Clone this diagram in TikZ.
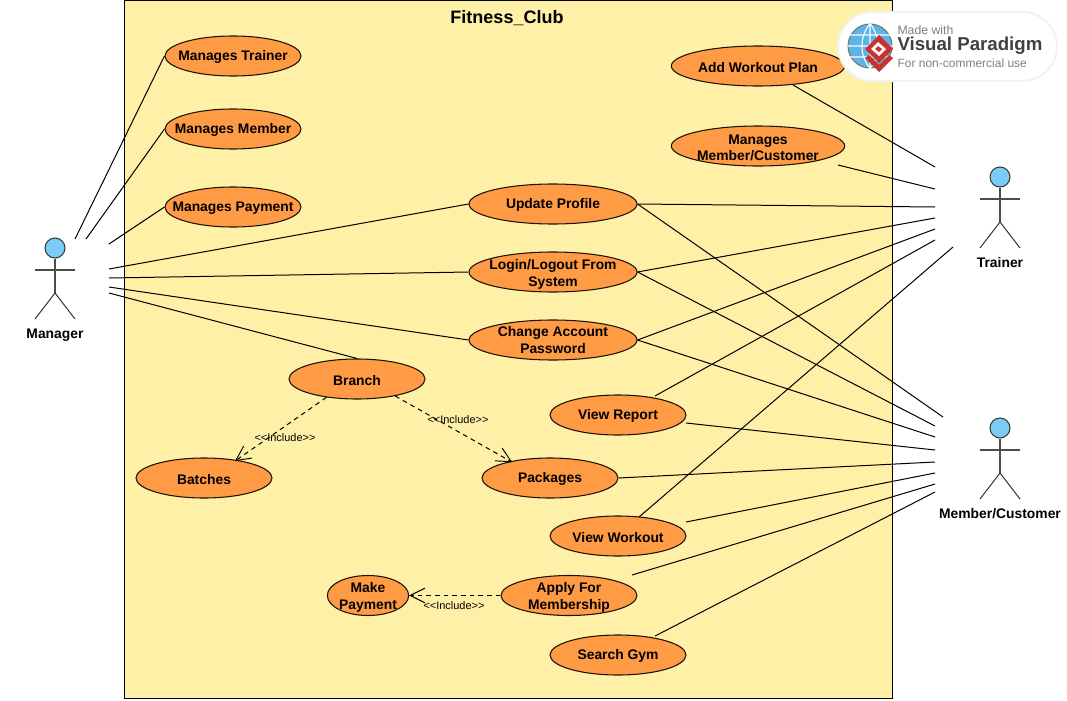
\documentclass[tikz,border=0pt]{standalone}
\usepackage{fontspec}
\setmainfont{Liberation Sans}
\usetikzlibrary{arrows.meta, shapes.geometric}

\definecolor{boundaryfill}{HTML}{FFF0A8}
\definecolor{casefill}{HTML}{FF9A45}
\definecolor{headfill}{HTML}{7ACBF5}
\definecolor{globeblue}{HTML}{5FB4E6}
\definecolor{vpred}{HTML}{C8322D}

\newcommand{\liftline}[1]{\rule{0pt}{#1pt}}

\tikzset{
  usecase/.style={ellipse, draw=black!85!brown, fill=casefill, line width=0.8pt, inner sep=-20pt,
    minimum width=102pt, minimum height=30pt, align=center, font=\bfseries\fontsize{10.4}{12.6}\selectfont,
    execute at begin node={\rule{0pt}{9.3pt}}},
  actorname/.style={font=\bfseries\fontsize{10.4}{12}\selectfont, text=black},
  inclabel/.style={font=\fontsize{8.2}{10}\selectfont, inner sep=0pt},
  include/.style={dash pattern=on 3.5pt off 3pt, line width=0.75pt, -{Straight Barb[length=11pt, width=11pt, line width=0.7pt]}},
}

\begin{document}
\begin{tikzpicture}[x=0.75pt, y=-0.75pt, line width=0.75pt]
  \useasboundingbox (0,0) rectangle (1067,700);
  \draw[fill=boundaryfill] (124,0) rectangle (892,698);
  \node[font=\bfseries\fontsize{13.5}{15}\selectfont] (title) at (507,18) {Fitness\_Club};

  % use cases
  \node[usecase] (trainerCase) at (233,56) {Manages Trainer};
  \node[usecase] (memberCase) at (233,129) {Manages Member};
  \node[usecase] (paymentCase) at (233,207) {Manages Payment};
  \node[usecase, minimum width=130pt] (workoutPlan) at (758,66) {Add Workout Plan};
  \node[usecase, minimum width=130pt] (memberCustomer) at (758,146) {\liftline{10}Manages\\Member/Customer};
  \node[usecase, minimum width=126pt] (updateProfile) at (553,204) {Update Profile};
  \node[usecase, minimum width=126pt] (login) at (553,272) {\liftline{11.5}Login/Logout From\\System};
  \node[usecase, minimum width=126pt] (changePass) at (553,340) {Change Account\\Password};
  \node[usecase] (branch) at (357,379) {Branch};
  \node[usecase] (batches) at (204,478) {Batches};
  \node[usecase] (packages) at (550,478) {Packages};
  \node[usecase] (viewReport) at (618,415) {View Report};
  \node[usecase] (viewWorkout) at (618,536) {View Workout};
  \node[usecase] (applyFor) at (569,595.5) {\liftline{10.8}Apply For\\Membership};
  \node[usecase, minimum width=61pt] (makePayment) at (368,595.5) {\liftline{10.8}Make\\Payment};
  \node[usecase] (searchGym) at (618,655) {Search Gym};

  % actors
  \foreach \nm/\hx/\hy in {managerHead/55/248, trainerHead/1000/177, memberHead/1000/428} {
    \node[circle, draw=black!80, fill=headfill, minimum size=15pt, inner sep=0pt] (\nm) at (\hx,\hy) {};
    \draw[black!70, line width=0.9pt] (\nm.south) -- (\hx,\hy+45) coordinate (\nm hip);
    \draw[black!70, line width=0.9pt] (\hx-20,\hy+22) -- (\hx+20,\hy+22);
    \draw[black!80] (\nm hip) -- ++(-20,26);
    \draw[black!80] (\nm hip) -- ++(20,26);
  }
  \node[actorname] (manager) at (55,335.5) {Manager};
  \node[actorname] (trainer) at (1000,263) {Trainer};
  \node[actorname] (member) at (1000,514) {Member/Customer};

  % free ends beside the actors
  \coordinate (mA) at (75,239);
  \coordinate (mB) at (86,239);
  \coordinate (mC) at (109,244);
  \coordinate (mD) at (109,269);
  \coordinate (mE) at (109,278);
  \coordinate (mF) at (109,287);
  \coordinate (mG) at (109,293);
  \coordinate (tA) at (935,167);
  \coordinate (tB) at (935,189);
  \coordinate (tC) at (935,207);
  \coordinate (tD) at (935,218);
  \coordinate (tE) at (935,229);
  \coordinate (tF) at (935,240);
  \coordinate (tG) at (953,247);
  \coordinate (cA) at (943,417);
  \coordinate (cB) at (935,426);
  \coordinate (cC) at (935,437);
  \coordinate (cD) at (935,450);
  \coordinate (cE) at (935,462);
  \coordinate (cF) at (935,473);
  \coordinate (cG) at (935,484);
  \coordinate (cH) at (935,492);
  \coordinate (planEnd) at (793,85);
  \coordinate (customerEnd) at (838,165);
  \coordinate (reportEnd) at (655,396);
  \coordinate (reportSide) at (686,423);
  \coordinate (workoutEnd) at (639,517);
  \coordinate (workoutSide) at (686,522);
  \coordinate (applyEnd) at (632,575);
  \coordinate (gymEnd) at (655,636);

  \draw (mA) -- (trainerCase.west);
  \draw (mB) -- (memberCase.west);
  \draw (mC) -- (paymentCase.west);
  \draw (mD) -- (updateProfile.west);
  \draw (mE) -- (login.west);
  \draw (mF) -- (changePass.west);
  \draw (mG) -- (branch.north);

  \draw (planEnd) -- (tA);
  \draw (customerEnd) -- (tB);
  \draw (updateProfile.east) -- (tC);
  \draw (login.east) -- (tD);
  \draw (changePass.east) -- (tE);
  \draw (reportEnd) -- (tF);
  \draw (workoutEnd) -- (tG);

  \draw (updateProfile.east) -- (cA);
  \draw (login.east) -- (cB);
  \draw (changePass.east) -- (cC);
  \draw (reportSide) -- (cD);
  \draw (packages.east) -- (cE);
  \draw (workoutSide) -- (cF);
  \draw (applyEnd) -- (cG);
  \draw (gymEnd) -- (cH);

  % include relations
  \draw[include, shorten >=-1.5pt] (branch.-149) -- (batches.29);
  \draw[include, shorten >=-1.5pt] (branch.-24) -- (packages.157);
  \draw[include] (applyFor.west) -- (makePayment.east);
  \node[inclabel] (incA) at (285,438) {<{}<Include>{}>};
  \node[inclabel] (incB) at (458,420) {<{}<Include>{}>};
  \node[inclabel] (incC) at (454,606) {<{}<Include>{}>};

  % watermark
  \path[fill=white, draw=black!5, line width=1.5pt, rounded corners=26pt] (838,12) rectangle (1057,81);
  \node[circle, draw=black!55, fill=globeblue, minimum size=33pt, inner sep=0pt] (globe) at (870,46) {};
  \draw[white, line width=0.8pt] (globe.north) to[bend left=38] (globe.south) (globe.north) to[bend right=38] (globe.south)
    (globe.north) -- (globe.south) (globe.west) -- (globe.east) (850,35) -- (890,35) (850,57) -- (890,57);
  \fill[vpred] (865,58) -- (879,72) -- (893,58) -- (889,55) -- (879,65) -- (869,55) -- cycle;
  \fill[vpred] (879,35) -- (893,49) -- (879,63) -- (865,49) -- cycle;
  \fill[white] (878,42) -- (886,49) -- (879,56) -- (871,49) -- cycle;
  \fill[vpred] (878,46) -- (882,49) -- (879,52) -- (875,49) -- cycle;
  \node[font=\fontsize{9.2}{11}\selectfont, text=black!50, anchor=west, inner sep=0pt] (vpMade) at (897,30) {Made with};
  \node[font=\bfseries\fontsize{14}{17}\selectfont, text=black!75, anchor=west, inner sep=0pt] (vpName) at (897,46) {Visual Paradigm};
  \node[font=\fontsize{9}{11}\selectfont, text=black!50, anchor=west, inner sep=0pt] (vpUse) at (897,63) {For non-commercial use};
\end{tikzpicture}
\end{document}
